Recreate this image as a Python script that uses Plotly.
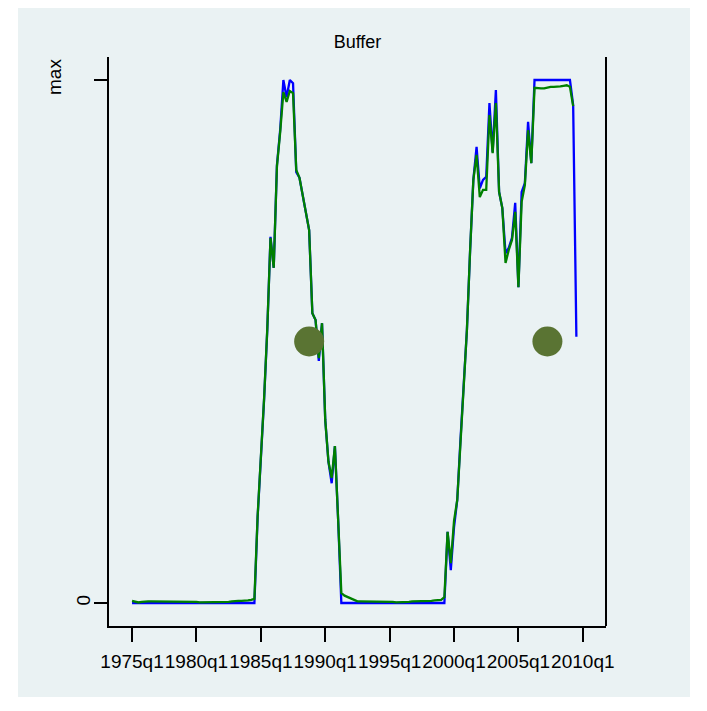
import plotly.graph_objects as go

# Quarterly periods 1975q1 .. 2009q3 (decimal years)
start_year = 1975
tick_vals = [1975, 1980, 1985, 1990, 1995, 2000, 2005, 2010]
tick_text = ["1975q1", "1980q1", "1985q1", "1990q1", "1995q1", "2000q1", "2005q1", "2010q1"]
y_tick_vals = [0, 1]
y_tick_text = ["0", ""]

# Blue series (1975q1 .. 2009q3), scaled so that max = 1
blue = [
    0, 0, 0, 0,            # 1975
    0, 0, 0, 0,            # 1976
    0, 0, 0, 0,            # 1977
    0, 0, 0, 0,            # 1978
    0, 0, 0, 0,            # 1979
    0, 0, 0, 0,            # 1980
    0, 0, 0, 0,            # 1981
    0, 0, 0, 0,            # 1982
    0, 0, 0, 0,            # 1983
    0, 0, 0, 0.164,        # 1984
    0.273, 0.388, 0.522, 0.700,   # 1985
    0.641, 0.837, 0.904, 1.000,   # 1986
    0.967, 1.000, 0.994, 0.824,   # 1987
    0.813, 0.780, 0.748, 0.713,   # 1988
    0.554, 0.541, 0.463, 0.535,   # 1989
    0.350, 0.270, 0.229, 0.300,   # 1990
    0.160, 0, 0, 0,               # 1991
    0, 0, 0, 0,            # 1992
    0, 0, 0, 0,            # 1993
    0, 0, 0, 0,            # 1994
    0, 0, 0, 0,            # 1995
    0, 0, 0, 0,            # 1996
    0, 0, 0, 0,            # 1997
    0, 0, 0, 0,            # 1998
    0, 0, 0.136, 0.063,           # 1999
    0.145, 0.197, 0.312, 0.426,   # 2000
    0.522, 0.675, 0.809, 0.872,   # 2001
    0.793, 0.809, 0.815, 0.956,   # 2002
    0.862, 0.981, 0.786, 0.755,   # 2003
    0.669, 0.679, 0.698, 0.765,   # 2004
    0.604, 0.786, 0.803, 0.920,   # 2005
    0.841, 1.000, 1.000, 1.000,   # 2006
    1.000, 1.000, 1.000, 1.000,   # 2007
    1.000, 1.000, 1.000, 1.000,   # 2008
    1.000, 0.952, 0.509,          # 2009
]

# Green series (1975q1 .. 2009q2)
green = [
    0.004, 0.002, 0.001, 0.002,   # 1975
    0.003, 0.003, 0.003, 0.003,   # 1976
    0.003, 0.003, 0.003, 0.003,   # 1977
    0.003, 0.003, 0.003, 0.003,   # 1978
    0.003, 0.003, 0.003, 0.002,   # 1979
    0.002, 0.001, 0.001, 0.001,   # 1980
    0.001, 0.001, 0.001, 0.001,   # 1981
    0.001, 0.001, 0.002, 0.003,   # 1982
    0.004, 0.004, 0.004, 0.004,   # 1983
    0.005, 0.006, 0.008, 0.166,   # 1984
    0.275, 0.390, 0.524, 0.698,   # 1985
    0.641, 0.835, 0.900, 0.977,   # 1986
    0.958, 0.979, 0.975, 0.828,   # 1987
    0.813, 0.780, 0.748, 0.713,   # 1988
    0.554, 0.541, 0.468, 0.535,   # 1989
    0.350, 0.270, 0.239, 0.300,   # 1990
    0.160, 0.019, 0.014, 0.011,   # 1991
    0.008, 0.005, 0.003, 0.003,   # 1992
    0.003, 0.003, 0.002, 0.002,   # 1993
    0.002, 0.002, 0.002, 0.002,   # 1994
    0.002, 0.002, 0.001, 0.001,   # 1995
    0.001, 0.002, 0.002, 0.003,   # 1996
    0.003, 0.003, 0.003, 0.003,   # 1997
    0.003, 0.004, 0.005, 0.005,   # 1998
    0.006, 0.011, 0.136, 0.076,   # 1999
    0.157, 0.197, 0.312, 0.426,   # 2000
    0.522, 0.675, 0.809, 0.857,   # 2001
    0.776, 0.790, 0.790, 0.933,   # 2002
    0.860, 0.956, 0.786, 0.755,   # 2003
    0.650, 0.675, 0.694, 0.748,   # 2004
    0.604, 0.767, 0.799, 0.904,   # 2005
    0.841, 0.985, 0.984, 0.984,   # 2006
    0.984, 0.986, 0.987, 0.987,   # 2007
    0.987, 0.988, 0.989, 0.990,   # 2008
    0.987, 0.950,                 # 2009
]

# Marker points (period, value)
dot_x = [1988.75, 2007.25]
dot_y = [0.5, 0.5]

blue_x = [start_year + i / 4 for i in range(len(blue))]
green_x = [start_year + i / 4 for i in range(len(green))]

BG = "#EAF2F3"
FONT = "Liberation Sans, Arial, sans-serif"

fig = go.Figure()
fig.add_trace(go.Scatter(x=blue_x, y=blue, mode="lines",
                         line=dict(color="#0000FF", width=2.3), showlegend=False))
fig.add_trace(go.Scatter(x=green_x, y=green, mode="lines",
                         line=dict(color="#008000", width=2.3), showlegend=False))
fig.add_trace(go.Scatter(x=dot_x, y=dot_y, mode="markers",
                         marker=dict(color="#5A7433", size=30, line=dict(width=0)),
                         showlegend=False))

# page offset (body margin) of 8 px
OFF = 8
W, H = 699, 703
# plot area in page pixels: l=109, r=606, t=57, b=626
L, R, T, B = 109 - OFF, 606 - OFF, 57 - OFF, 626 - OFF
pw, ph = R - L, B - T

def px(x):
    return (x - OFF - L) / pw

def py(y):
    return (B - (y - OFF)) / ph

fig.update_layout(
    width=W, height=H,
    margin=dict(l=L, r=W - R, t=T, b=H - B, pad=0),
    paper_bgcolor="white",
    plot_bgcolor="white",
    font=dict(family=FONT, color="black"),
    title=dict(text="Buffer", x=(L + pw / 2) / W, xanchor="center",
               y=1 - (42 - OFF) / H, yanchor="middle", yref="container",
               font=dict(size=18, color="black", family=FONT)),
    xaxis=dict(range=[1973.21, 2011.80], tickvals=tick_vals, ticktext=tick_text,
               showgrid=False, zeroline=False, showline=True, linecolor="black",
               linewidth=2, ticks="outside", ticklen=14, tickwidth=2, tickangle=0,
               ticklabelstandoff=3,
               tickcolor="black", tickfont=dict(size=19, family=FONT, color="black")),
    yaxis=dict(range=[-0.044, 1.044], tickvals=y_tick_vals, ticktext=y_tick_text,
               showgrid=True, gridcolor=BG, gridwidth=1.5, zeroline=False,
               showline=True, linecolor="black", linewidth=2, ticks="outside",
               ticklen=13, tickwidth=2, tickcolor="black", tickangle=-90,
               ticklabelstandoff=-4,
               tickfont=dict(size=19, family=FONT, color="black")),
    shapes=[
        dict(type="rect", xref="paper", yref="paper", layer="below",
             x0=px(18), x1=px(690), y0=py(697), y1=py(8),
             fillcolor=BG, line=dict(width=0)),
        dict(type="line", xref="paper", yref="paper", x0=1, x1=1, y0=0, y1=1,
             line=dict(color="black", width=2)),
    ],
    annotations=[
        dict(text="max", xref="paper", yref="paper", x=px(55), y=py(77),
             xanchor="center", yanchor="middle", showarrow=False, textangle=-90,
             font=dict(size=19, family=FONT, color="black")),
    ],
)

fig.write_html("out.html")
